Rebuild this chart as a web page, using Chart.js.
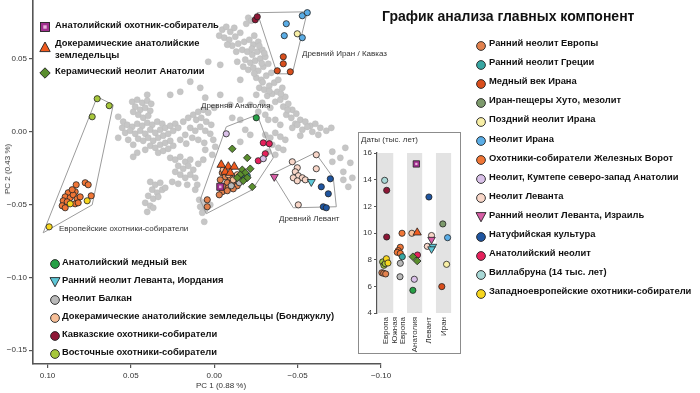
<!DOCTYPE html>
<html><head><meta charset="utf-8">
<script src="https://cdn.jsdelivr.net/npm/chart.js@4.4.1/dist/chart.umd.min.js"></script>
<style>
html,body{margin:0;padding:0;background:#fff;}
body{width:700px;height:393px;position:relative;overflow:hidden;font-family:"Liberation Sans",Arial,sans-serif;color:#111;}
canvas{position:absolute;}
#box{position:absolute;left:358px;top:132px;width:103px;height:222px;border:1.5px solid #8c8c8c;box-sizing:border-box;background:#fff;}
.t{position:absolute;white-space:nowrap;font-size:8px;color:#333;line-height:10px;}
.lg{position:absolute;font-weight:bold;font-size:9.4px;white-space:nowrap;line-height:12px;color:#111;}
.mk{position:absolute;}
</style></head>
<body>
<canvas id="main" width="700" height="393" style="left:0;top:0;width:700px;height:393px"></canvas>
<div id="box"></div>
<canvas id="inset" width="103" height="222" style="left:358px;top:132px;width:103px;height:222px"></canvas>
<div id="labels"></div>
<script>
// ---------- axes / categories ----------
const PC1_TICKS = [0.10, 0.05, 0.00, -0.05, -0.10];
const PC2_TICKS = [0.05, 0.00, -0.05, -0.10, -0.15];
const DATE_TICKS = [4, 6, 8, 10, 12, 14, 16];
// region columns 1..5; "Южная Европа" (column 2) is written on two rotated lines
const REGION_LABELS = ['Европа', 'Южная', 'Европа', 'Анатолия', 'Левант', 'Иран'];
const REGION_LABEL_POS = [1, 1.64, 2.15, 3, 4, 5];
const BAND_REGIONS = [1, 3, 5];

// ---------- main PCA values [PC1, PC2] ----------
const refPoints = [
[-0.0048,0.0701],[-0.0072,0.0721],[-0.0096,0.0687],[-0.0120,0.0714],[-0.0030,0.0660],[-0.0060,0.0646],[-0.0090,0.0632],[-0.0126,0.0653],[-0.0144,0.0605],[-0.0108,0.0591],[-0.0078,0.0598],[-0.0156,0.0680],[-0.0204,0.0783],[-0.0222,0.0763],[-0.0192,0.0742],
[-0.0180,0.0618],[-0.0210,0.0632],[-0.0234,0.0598],[-0.0264,0.0618],[-0.0168,0.0563],[-0.0198,0.0550],[-0.0228,0.0529],[-0.0258,0.0550],[-0.0288,0.0563],[-0.0186,0.0495],[-0.0216,0.0474],[-0.0246,0.0488],[-0.0276,0.0502],[-0.0306,0.0515],[-0.0204,0.0426],[-0.0234,0.0440],[-0.0264,0.0419],[-0.0294,0.0447],[-0.0324,0.0467],[-0.0252,0.0371],[-0.0282,0.0357],[-0.0312,0.0385],[-0.0342,0.0405],[-0.0270,0.0302],[-0.0300,0.0289],[-0.0330,0.0316],[-0.0360,0.0337],[-0.0384,0.0357],[-0.0318,0.0247],[-0.0348,0.0261],[-0.0378,0.0275],[-0.0408,0.0302],[-0.0366,0.0206],[-0.0396,0.0220],[-0.0426,0.0240],[-0.0414,0.0172],[-0.0444,0.0192],[-0.0468,0.0151],[-0.0432,0.0117],[-0.0462,0.0096],[-0.0492,0.0124],[-0.0516,0.0082],[-0.0486,0.0055],[-0.0546,0.0069],[-0.0576,0.0041],[-0.0606,0.0055],[-0.0636,0.0027],[-0.0672,0.0007],[-0.0702,0.0027],[-0.0588,0.0000],[-0.0624,-0.0021],
[-0.0240,0.0660],[-0.0270,0.0590],[-0.0300,0.0540],[-0.0240,0.0400],[-0.0290,0.0340],[-0.0330,0.0280],[-0.0400,0.0260],[-0.0440,0.0150],[-0.0225,0.0570],[-0.0285,0.0470],
[-0.0288,0.0199],[-0.0324,0.0082],[-0.0252,0.0254],[-0.0132,0.0550],[-0.0174,0.0447],
[0.0036,0.0481],[-0.0036,0.0460],[-0.0138,0.0481],[-0.0156,0.0357],[-0.0036,0.0254],[0.0054,0.0234],[0.0084,0.0302],[0.0144,0.0344],[0.0204,0.0275],[0.0264,0.0254],[-0.0096,0.0185],[-0.0156,0.0220],[-0.0216,0.0185],[-0.0264,0.0137],[-0.0306,0.0117],[-0.0336,0.0165],[-0.0366,0.0082],[-0.0396,0.0048],[-0.0786,-0.0110],[-0.0756,-0.0179],[-0.0816,-0.0213],[-0.0774,-0.0275],[-0.0828,-0.0316],[-0.0708,-0.0137],[-0.0804,-0.0378],[-0.0156,0.0082],[-0.0186,0.0014],[-0.0108,0.0096],
[0.0402,0.0254],[0.0492,0.0206],[0.0462,0.0220],[0.0432,0.0199],[0.0402,0.0213],[0.0378,0.0192],[0.0474,0.0172],[0.0444,0.0151],[0.0414,0.0165],[0.0384,0.0144],[0.0456,0.0117],[0.0426,0.0096],[0.0396,0.0110],[0.0486,0.0137],[0.0576,0.0103],[0.0546,0.0069],[0.0552,0.0027],[0.0522,0.0048],[0.0492,0.0034],[0.0462,0.0055],[0.0432,0.0041],[0.0402,0.0062],[0.0372,0.0048],[0.0342,0.0069],[0.0312,0.0055],[0.0534,-0.0007],[0.0504,0.0007],[0.0474,-0.0014],[0.0444,0.0007],[0.0414,-0.0014],[0.0384,0.0014],[0.0354,-0.0007],[0.0324,0.0014],[0.0294,0.0027],[0.0264,0.0041],[0.0234,0.0055],[0.0456,-0.0048],[0.0426,-0.0062],[0.0396,-0.0041],[0.0366,-0.0062],[0.0336,-0.0041],[0.0306,-0.0027],[0.0276,-0.0014],[0.0246,0.0007],[0.0216,0.0027],[0.0384,-0.0096],[0.0354,-0.0110],[0.0324,-0.0089],[0.0294,-0.0076],[0.0264,-0.0062],[0.0336,-0.0144],[0.0306,-0.0131],[0.0276,-0.0117],[0.0246,-0.0096],[0.0414,-0.0124],[0.0516,-0.0055],[0.0486,-0.0089],[0.0576,-0.0041],
[0.0186,0.0069],[0.0156,0.0096],[0.0126,0.0117],[0.0096,0.0137],[0.0066,0.0151],[0.0036,0.0131],[0.0108,0.0082],[0.0078,0.0096],[0.0048,0.0069],[0.0018,0.0048],[0.0144,0.0027],[0.0114,0.0007],[0.0084,0.0034],[0.0054,0.0007],[0.0024,-0.0014],[0.0174,-0.0021],[0.0132,-0.0041],[0.0096,-0.0055],[0.0060,-0.0076],[0.0204,-0.0055],[0.0168,-0.0082],[0.0000,0.0165],[0.0006,-0.0055],
[0.0264,-0.0179],[0.0234,-0.0192],[0.0204,-0.0172],[0.0174,-0.0206],[0.0144,-0.0192],[0.0216,-0.0234],[0.0186,-0.0254],[0.0156,-0.0234],[0.0126,-0.0261],[0.0204,-0.0295],[0.0174,-0.0316],[0.0144,-0.0295],[0.0114,-0.0316],[0.0234,-0.0275],[0.0096,-0.0220],[0.0066,-0.0192],[0.0102,-0.0364],[0.0162,-0.0364],[0.0252,-0.0344],[0.0462,-0.0144],[0.0486,-0.0172],
[0.0384,-0.0344],[0.0354,-0.0364],[0.0324,-0.0350],[0.0372,-0.0398],[0.0342,-0.0419],[0.0312,-0.0398],[0.0396,-0.0440],[0.0366,-0.0460],[0.0336,-0.0447],[0.0414,-0.0488],[0.0384,-0.0508],[0.0294,-0.0385],[0.0216,-0.0357],[0.0114,-0.0398],[0.0402,-0.0550],[0.0366,-0.0522],[0.0090,-0.0467],[0.0066,-0.0488],[0.0084,-0.0515],[0.0054,-0.0536],[0.0072,-0.0556],[0.0024,-0.0502],[0.0060,-0.0618],
[-0.0306,-0.0021],[-0.0336,-0.0041],[-0.0366,-0.0007],[-0.0396,-0.0034],[-0.0426,-0.0055],[-0.0348,-0.0089],[-0.0384,-0.0110],[-0.0414,-0.0124],[-0.0324,-0.0137],[-0.0366,-0.0158],[-0.0468,0.0027],[-0.0498,0.0048],[-0.0528,0.0014],[-0.0558,0.0034],[-0.0516,-0.0027],[-0.0774,-0.0330],[-0.0708,-0.0206],[0.0054,-0.0124],[0.0012,-0.0158],[-0.0006,-0.0103],[-0.0156,-0.0069],[-0.0216,-0.0021]
];

const hullIran = [[-0.0258,0.0818],[-0.0558,0.0824],[-0.0468,0.0398],[-0.0378,0.0398],[-0.0258,0.0818]];
const hullEurope = [[0.0702,0.0240],[0.0606,0.0185],[0.0732,-0.0502],[0.1026,-0.0694],[0.0702,0.0240]];
const hullAnatolia = [[-0.0072,0.0034],[-0.0258,0.0117],[-0.0354,-0.0179],[-0.0228,-0.0398],[0.0048,-0.0563],[0.0084,-0.0467],[-0.0072,0.0034]];
const hullLevant = [[-0.0348,-0.0289],[-0.0606,-0.0144],[-0.0714,-0.0316],[-0.0732,-0.0515],[-0.0474,-0.0522],[-0.0348,-0.0289]];

const caucasusHG = [[-0.0246,0.0769],[-0.0258,0.0790]];
const iranNeo = [[-0.0528,0.0797],[-0.0558,0.0818],[-0.0432,0.0742],[-0.0420,0.0660],[-0.0528,0.0646]];
const lateNeoIran = [[-0.0498,0.0673]];
const chalcoIran = [[-0.0414,0.0515],[-0.0414,0.0467],[-0.0378,0.0419],[-0.0456,0.0412]];
const easternHG = [[0.0702,0.0227],[0.0630,0.0179],[0.0732,0.0103]];
const westernHG = [[0.0990,-0.0653],[0.0864,-0.0495],[0.0762,-0.0474]];
const ironGatesHG = [[0.0828,-0.0364],[0.0774,-0.0350],[0.0756,-0.0364],[0.0876,-0.0419],[0.0834,-0.0412],[0.0894,-0.0447],[0.0864,-0.0453],[0.0846,-0.0433],[0.0822,-0.0460],[0.0804,-0.0447],[0.0906,-0.0474],[0.0882,-0.0481],[0.0834,-0.0495],[0.0816,-0.0488],[0.0912,-0.0508],[0.0894,-0.0522],[0.0738,-0.0440],[0.0852,-0.0398]];
const anatChalco = [[-0.0252,0.0096]];
const kumtepe = [[-0.0072,-0.0014],[-0.0294,-0.0185]];
const anatNeo = [[-0.0294,-0.0076],[-0.0330,-0.0082],[-0.0306,-0.0151],[-0.0264,-0.0199]];
const anatCeramic = [[-0.0108,-0.0117],[-0.0198,-0.0179],[-0.0216,-0.0254],[-0.0168,-0.0261],[-0.0186,-0.0282],[-0.0156,-0.0295],[-0.0198,-0.0316],[-0.0228,-0.0378],[-0.0138,-0.0316],[-0.0174,-0.0337]];
const anatPPN = [[-0.0042,-0.0227],[-0.0084,-0.0240],[-0.0120,-0.0240],[-0.0066,-0.0275],[-0.0096,-0.0282]];
const earlyNeoEurope = [[-0.0048,-0.0282],[-0.0066,-0.0309],[-0.0096,-0.0316],[-0.0126,-0.0344],[-0.0036,-0.0330],[-0.0078,-0.0350],[-0.0108,-0.0350],[-0.0138,-0.0371],[-0.0054,-0.0378],[-0.0084,-0.0385],[-0.0114,-0.0392],[-0.0048,-0.0412],[-0.0078,-0.0405],[-0.0030,-0.0433],[0.0042,-0.0467],[0.0042,-0.0515]];
const boncuklu = [[-0.0054,-0.0261],[-0.0084,-0.0295],[-0.0138,-0.0295],[-0.0114,-0.0330]];
const balkanNeo = [[-0.0150,-0.0350],[-0.0102,-0.0371]];
const greeceNeo = [[-0.0198,-0.0302],[-0.0180,-0.0323]];
const anatHG = [[-0.0036,-0.0378]];
const levantIsrael = [[-0.0360,-0.0309]];
const levantNeo = [[-0.0468,-0.0206],[-0.0498,-0.0247],[-0.0486,-0.0275],[-0.0612,-0.0158],[-0.0612,-0.0254],[-0.0504,-0.0302],[-0.0474,-0.0316],[-0.0528,-0.0316],[-0.0498,-0.0337],[-0.0546,-0.0330],[-0.0504,-0.0502]];
const levantJordan = [[-0.0582,-0.0344]];
const natufian = [[-0.0696,-0.0323],[-0.0642,-0.0378],[-0.0684,-0.0426],[-0.0654,-0.0515],[-0.0672,-0.0522]];

// ---------- inset: [region position, date (thousand years)] ----------
const dVillabruna = [[0.93,13.95]];
const dCaucasus = [[1.07,13.2],[1.07,9.7]];
const dWHG = [[1.05,8.07],[1.16,7.75]];
const dEHG = [[0.79,7.83],[0.88,7.58],[0.97,7.7]];
const dEarlyNeoEurope = [[0.74,7.02],[0.86,6.98],[1.0,6.93]];
const dIronGates = [[2.13,9.98],[2.01,8.93],[1.87,8.68],[1.8,8.55],[2.01,8.47]];
const dGreece = [[2.15,8.22]];
const dBalkan = [[2.01,7.73],[1.99,6.72]];
const dAnatHG = [[3.12,15.18]];
const dBoncuklu = [[2.81,9.98]];
const dPPN = [[3.18,10.03]];
const dCeramic = [[2.88,8.22],[3.18,7.9]];
const dAnatNeo = [[3.2,8.35]];
const dKumtepe = [[2.98,6.53]];
const dAnatChalco = [[2.88,5.7]];
const dNatufian = [[3.99,12.7]];
const dLevantNeo = [[4.17,9.81],[3.88,9.0]];
const dLevantIsrael = [[4.17,9.51]];
const dLevantJordan = [[4.26,8.99],[4.17,8.8]];
const dHotu = [[4.95,10.68]];
const dIranNeo = [[5.28,9.65]];
const dLateIran = [[5.21,7.65]];
const dChalcoIran = [[4.88,5.98]];

// ---------- styles ----------
const C = {
  earlyNeoEurope:'#e2814d', greece:'#37a6a2', chalcoIran:'#d94e1c', hotu:'#7d9a6c', lateIran:'#f8efa6',
  iranNeo:'#5aade6', ironGates:'#f07636', kumtepe:'#d9c0e8', levantNeo:'#f8d6c8', levantIsrael:'#d85ea6',
  natufian:'#1f55a0', anatNeo:'#e6215c', villabruna:'#a8d8d6', whg:'#f7d61e',
  anatChalco:'#27a046', levantJordan:'#5ec8d8', balkan:'#b9b9b9', boncuklu:'#f7bf98', caucasus:'#8e1736', ehg:'#a7c73b',
  anatHG:'#a0308e', ppn:'#f05a1e', ceramic:'#5a8e2e'
};
const SHAPE = {
  circle:{pointStyle:'circle', r:3.1, rot:0},
  tri:{pointStyle:'triangle', r:5, rot:0},
  triDown:{pointStyle:'triangle', r:4.6, rot:180},
  square:{pointStyle:'rect', r:5, rot:0},
  diamond:{pointStyle:'rectRot', r:3.8, rot:0}
};

const toXY = arr => arr.map(p => ({x:p[0], y:p[1]}));
function series(arr, color, shape, order, scale){
  const s = SHAPE[shape]; const k = scale || 1;
  return {data:toXY(arr), backgroundColor:color, borderColor:'#222', borderWidth:0.8,
    pointStyle:s.pointStyle, pointRadius:s.r*k, rotation:s.rot, order:order, clip:false};
}
function hull(arr){
  return {data:toXY(arr), showLine:true, borderColor:'#9c9c9c', borderWidth:1, pointRadius:0, fill:false, order:80, clip:false, tension:0};
}

const mainSets = [
  {data:toXY(refPoints), backgroundColor:'#c6c6c6', borderColor:'#b8b8b8', borderWidth:0.4, pointRadius:3.1, order:100, clip:false},
  hull(hullIran), hull(hullEurope), hull(hullAnatolia), hull(hullLevant),
  series(ironGatesHG, C.ironGates, 'circle', 40),
  series(earlyNeoEurope, C.earlyNeoEurope, 'circle', 40),
  series(boncuklu, C.boncuklu, 'circle', 35),
  series(balkanNeo, C.balkan, 'circle', 35),
  series(greeceNeo, C.greece, 'circle', 35),
  series(westernHG, C.whg, 'circle', 30),
  series(easternHG, C.ehg, 'circle', 30),
  series(caucasusHG, C.caucasus, 'circle', 30),
  series(iranNeo, C.iranNeo, 'circle', 30),
  series(lateNeoIran, C.lateIran, 'circle', 30),
  series(chalcoIran, C.chalcoIran, 'circle', 30),
  series(anatChalco, C.anatChalco, 'circle', 30),
  series(kumtepe, C.kumtepe, 'circle', 30),
  series(anatNeo, C.anatNeo, 'circle', 30),
  series(levantNeo, C.levantNeo, 'circle', 30),
  series(natufian, C.natufian, 'circle', 30),
  series(anatCeramic, C.ceramic, 'diamond', 20),
  series(anatPPN, C.ppn, 'tri', 15),
  series(levantIsrael, C.levantIsrael, 'triDown', 15),
  series(levantJordan, C.levantJordan, 'triDown', 15),
  series(anatHG, C.anatHG, 'square', 10),
  {data:toXY(anatHG), backgroundColor:'#e8b4dc', borderWidth:0, pointStyle:'rect', pointRadius:1.8, order:5, clip:false}
];

const fmt = v => (Math.abs(v) < 1e-9 ? '0.00' : (v < 0 ? '\u2212' : '') + Math.abs(v).toFixed(2));
const tickFont = {size:8, family:'"Liberation Sans", Arial, sans-serif'};
const noPad = s => { s.paddingTop = 0; s.paddingBottom = 0; s.paddingLeft = 0; s.paddingRight = 0; };

new Chart(document.getElementById('main'), {
  type:'scatter',
  data:{datasets:mainSets},
  options:{
    responsive:false, animation:false, events:[],
    layout:{autoPadding:false, padding:{left:0, top:0, right:319, bottom:0}},
    plugins:{legend:{display:false}, tooltip:{enabled:false}},
    scales:{
      x:{type:'linear', reverse:true, min:-0.1, max:0.1087,
        afterBuildTicks:s => { s.ticks = PC1_TICKS.map(v => ({value:v})); },
        afterFit:s => { s.height = 29; noPad(s); },
        grid:{drawOnChartArea:false, drawTicks:true, tickLength:4, color:'#555', lineWidth:1.2},
        border:{display:true, color:'#555', width:1.6},
        ticks:{callback:v => fmt(v), font:tickFont, color:'#333', padding:3, maxRotation:0, autoSkip:false}},
      y:{type:'linear', min:-0.1595, max:0.0905,
        afterBuildTicks:s => { s.ticks = PC2_TICKS.map(v => ({value:v})); },
        afterFit:s => { s.width = 33; noPad(s); },
        grid:{drawOnChartArea:false, drawTicks:true, tickLength:4, color:'#555', lineWidth:1.2},
        border:{display:true, color:'#555', width:1.6},
        ticks:{callback:v => fmt(v), font:tickFont, color:'#333', padding:2, autoSkip:false}}
    }
  }
});

const insetSets = [
  {type:'bar', data:BAND_REGIONS.map(r => ({x:r, y:[DATE_TICKS[0], DATE_TICKS[DATE_TICKS.length-1]]})),
   backgroundColor:'#e3e3e3', borderWidth:0, barThickness:14.5, order:100},
  series(dVillabruna, C.villabruna, 'circle', 30, 1),
  series(dCaucasus, C.caucasus, 'circle', 30, 1),
  series(dEarlyNeoEurope, C.earlyNeoEurope, 'circle', 30, 1),
  series(dEHG, C.ehg, 'circle', 30, 1),
  series(dWHG, C.whg, 'circle', 29, 1),
  series(dIronGates, C.ironGates, 'circle', 30, 1),
  series(dGreece, C.greece, 'circle', 29, 1),
  series(dBalkan, C.balkan, 'circle', 30, 1),
  series(dAnatHG, C.anatHG, 'square', 20, 0.9),
  {data:toXY(dAnatHG), backgroundColor:'#e8b4dc', borderWidth:0, pointStyle:'rect', pointRadius:1.6, order:5},
  series(dBoncuklu, C.boncuklu, 'circle', 30, 1),
  series(dPPN, C.ppn, 'tri', 20, 0.95),
  series(dCeramic, C.ceramic, 'diamond', 20, 1),
  series(dAnatNeo, C.anatNeo, 'circle', 25, 1),
  series(dKumtepe, C.kumtepe, 'circle', 30, 1),
  series(dAnatChalco, C.anatChalco, 'circle', 30, 1),
  series(dNatufian, C.natufian, 'circle', 30, 1),
  series(dLevantNeo, C.levantNeo, 'circle', 30, 1),
  series(dLevantIsrael, C.levantIsrael, 'triDown', 20, 0.95),
  series(dLevantJordan, C.levantJordan, 'triDown', 20, 0.95),
  series(dHotu, C.hotu, 'circle', 30, 1),
  series(dIranNeo, C.iranNeo, 'circle', 30, 1),
  series(dLateIran, C.lateIran, 'circle', 30, 1),
  series(dChalcoIran, C.chalcoIran, 'circle', 30, 1)
];

new Chart(document.getElementById('inset'), {
  type:'scatter',
  data:{datasets:insetSets},
  options:{
    responsive:false, animation:false, events:[],
    layout:{autoPadding:false, padding:{left:0, top:21, right:3, bottom:0}},
    plugins:{legend:{display:false}, tooltip:{enabled:false}},
    scales:{
      x:{type:'linear', min:0.4, max:6.0, offset:false,
        afterBuildTicks:s => { s.ticks = REGION_LABEL_POS.map(v => ({value:v})); },
        afterFit:s => { s.height = 41; noPad(s); },
        grid:{display:false, drawTicks:false}, border:{display:false},
        ticks:{callback:(v, i) => REGION_LABELS[i], minRotation:90, maxRotation:90, autoSkip:false,
               font:tickFont, color:'#333', padding:4}},
      y:{type:'linear', min:4, max:16,
        afterBuildTicks:s => { s.ticks = DATE_TICKS.map(v => ({value:v})); },
        afterFit:s => { s.width = 19; noPad(s); },
        grid:{drawOnChartArea:false, drawTicks:true, tickLength:3, color:'#555', lineWidth:1},
        border:{display:true, color:'#555', width:1.3},
        ticks:{font:tickFont, color:'#333', padding:2, autoSkip:false}}
    }
  }
});

// ---------- text & legends ----------
const L = document.getElementById('labels');
function text(html, x, y, cls, extra){
  const d = document.createElement('div'); d.className = cls || 't'; d.innerHTML = html;
  d.style.left = x + 'px'; d.style.top = y + 'px'; if (extra) Object.assign(d.style, extra); L.appendChild(d); return d;
}
function marker(shape, color, cx, cy){
  let inner = '';
  const st = `fill="${color}" stroke="#222" stroke-width="0.9"`;
  if (shape === 'circle') inner = `<circle cx="6" cy="6" r="4.4" ${st}/>`;
  else if (shape === 'tri') inner = `<polygon points="6,1 11.2,10.6 0.8,10.6" ${st}/>`;
  else if (shape === 'triDown') inner = `<polygon points="1,1.6 11,1.6 6,10.8" ${st}/>`;
  else if (shape === 'square') inner = `<rect x="1.5" y="1.5" width="9" height="9" ${st}/><rect x="4.3" y="4.3" width="3.4" height="3.4" fill="#e8b4dc"/>`;
  else if (shape === 'diamond') inner = `<polygon points="6,0.8 11.2,6 6,11.2 0.8,6" ${st}/>`;
  const d = document.createElement('div'); d.className = 'mk';
  d.style.left = (cx - 6) + 'px'; d.style.top = (cy - 6) + 'px';
  d.innerHTML = `<svg width="12" height="12" viewBox="0 0 12 12">${inner}</svg>`;
  L.appendChild(d);
}
function item(shape, color, label, mx, tx, y){ marker(shape, color, mx, y); text(label, tx, y - 6.5, 'lg'); }

text('График анализа главных компонент', 382, 6, 't', {fontSize:'14px', fontWeight:'bold', color:'#111', lineHeight:'20px'});

item('square', C.anatHG, 'Анатолийский охотник-собиратель', 45, 55, 25);
marker('tri', C.ppn, 45, 45);
text('Докерамические анатолийские<br>земледельцы', 55, 37, 'lg', {lineHeight:'12px'});
item('diamond', C.ceramic, 'Керамический неолит Анатолии', 45, 55, 71);

const leftLegend = [
  ['circle', C.anatChalco, 'Анатолийский медный век'],
  ['triDown', C.levantJordan, 'Ранний неолит Леванта, Иордания'],
  ['circle', C.balkan, 'Неолит Балкан'],
  ['circle', C.boncuklu, 'Докерамические анатолийские земледельцы (Бонджуклу)'],
  ['circle', C.caucasus, 'Кавказские охотники-собиратели'],
  ['circle', C.ehg, 'Восточные охотники-собиратели']
];
leftLegend.forEach((e, i) => item(e[0], e[1], e[2], 55, 62, 262 + i * 18));

const rightLegend = [
  ['circle', C.earlyNeoEurope, 'Ранний неолит Европы'],
  ['circle', C.greece, 'Ранний неолит Греции'],
  ['circle', C.chalcoIran, 'Медный век Ирана'],
  ['circle', C.hotu, 'Иран-пещеры Хуто, мезолит'],
  ['circle', C.lateIran, 'Поздний неолит Ирана'],
  ['circle', C.iranNeo, 'Неолит Ирана'],
  ['circle', C.ironGates, 'Охотники-собиратели Железных Ворот'],
  ['circle', C.kumtepe, 'Неолит, Кумтепе северо-запад Анатолии'],
  ['circle', C.levantNeo, 'Неолит Леванта'],
  ['triDown', C.levantIsrael, 'Ранний неолит Леванта, Израиль'],
  ['circle', C.natufian, 'Натуфийская культура'],
  ['circle', C.anatNeo, 'Анатолийский неолит'],
  ['circle', C.villabruna, 'Виллабруна (14 тыс. лет)'],
  ['circle', C.whg, 'Западноевропейские охотники-собиратели']
];
rightLegend.forEach((e, i) => item(e[0], e[1], e[2], 481, 489, 43.5 + i * 19.1));

text('Древний Иран / Кавказ', 302, 49);
text('Древняя Анатолия', 201, 101);
text('Европейские охотники-собиратели', 59, 224);
text('Древний Левант', 279, 214);
text('Даты (тыс. лет)', 361, 135);
text('PC 1 (0.88 %)', 221, 381, 't', {transform:'translateX(-50%)'});
text('PC 2 (0.43 %)', 8, 169, 't', {transform:'translate(-50%,-50%) rotate(-90deg)'});
</script>
</body></html>
